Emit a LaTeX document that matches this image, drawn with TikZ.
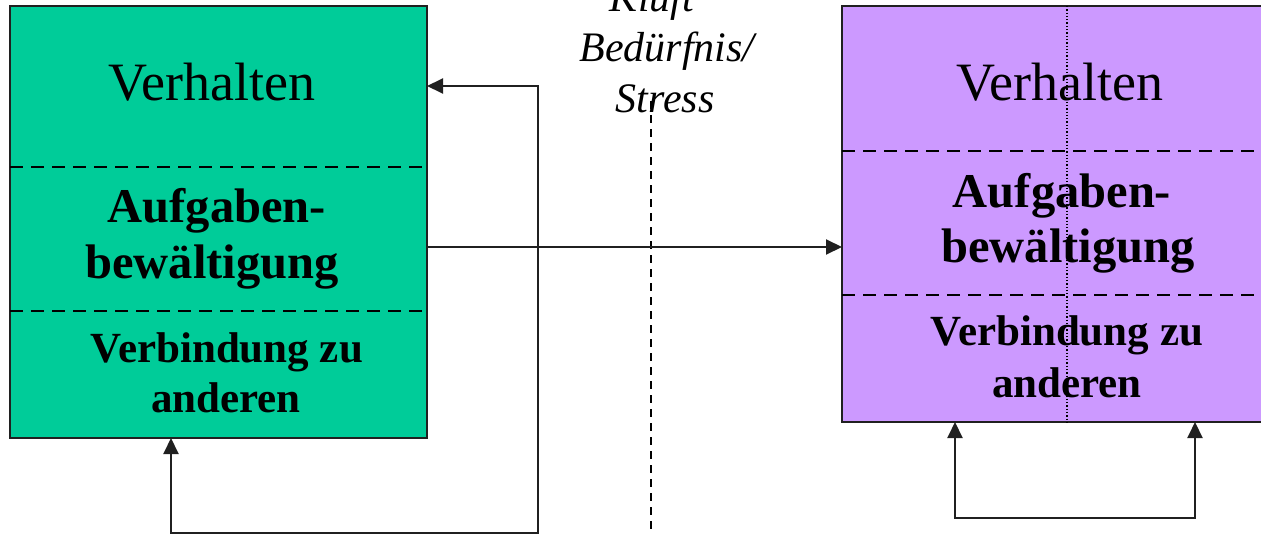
\documentclass[tikz,border=0pt]{standalone}
\usepackage{fontspec}
\setmainfont{Liberation Serif}
\usetikzlibrary{arrows.meta}
\definecolor{boxgreen}{HTML}{00CC99}
\definecolor{boxviolet}{HTML}{CC99FF}
\definecolor{edge}{HTML}{202020}
\tikzset{
  panel/.style={draw=edge, line width=2pt, inner sep=0pt, outer sep=0pt},
  divider/.style={line width=2pt, dash pattern=on 13pt off 8pt},
  bigtext/.style={anchor=base, inner sep=0pt, font=\fontsize{54}{60}\selectfont},
  boldtext/.style={anchor=base, inner sep=0pt, font=\fontsize{48.5}{56}\selectfont\bfseries},
  smalltext/.style={anchor=base, inner sep=0pt, font=\fontsize{43}{50}\selectfont\bfseries},
  gaptext/.style={anchor=base, inner sep=0pt, font=\fontsize{42}{50}\selectfont\itshape},
  tip/.tip={Triangle[length=16pt,width=15pt]},
  link/.style={draw=edge, line width=2pt, -tip},
  twoway/.style={draw=edge, line width=2pt, tip-tip},
}
\begin{document}
\begin{tikzpicture}[x=1pt,y=-1pt]
\useasboundingbox (0,0) rectangle (1261,535);
\clip (0,0) rectangle (1261,535);

% left panel
\node[panel, fill=boxgreen, minimum width=417pt, minimum height=432pt, anchor=north west] (L) at (10,6) {};
\draw[divider] (L.west |- 0,167) -- (L.east |- 0,167);
\draw[divider] (L.west |- 0,311) -- (L.east |- 0,311);
\node[bigtext] (L1) at (212,100) {Verhalten};
\node[boldtext] (L2a) at (217,222) {Aufgaben-};
\node[boldtext] (L2b) at (212,278) {bewältigung};
\node[smalltext] (L3a) at (227,362) {Verbindung zu};
\node[smalltext] (L3b) at (226,412) {anderen};

% right panel
\node[panel, fill=boxviolet, minimum width=436pt, minimum height=416pt, anchor=north west] (R) at (842,6) {};
\draw[divider] (R.west |- 0,151) -- (R.east |- 0,151);
\draw[divider] (R.west |- 0,295) -- (R.east |- 0,295);
\draw[line width=1.3pt, dotted] (1067,6) -- (1067,422);
\node[bigtext] (R1) at (1060,100) {Verhalten};
\node[boldtext] (R2a) at (1062,207) {Aufgaben-};
\node[boldtext] (R2b) at (1068,262) {bewältigung};
\node[smalltext] (R3a) at (1067,345) {Verbindung zu};
\node[smalltext] (R3b) at (1067,397) {anderen};

% gap in between
\node[gaptext] (K) at (652,12) {Kluft};
\node[gaptext] (B) at (667,62) {Bedürfnis/};
\node[gaptext] (S) at (665,112) {Stress};
\coordinate (gtop) at (651,101);
\coordinate (gbot) at (651,535);
\draw[line width=1.5pt, dash pattern=on 8pt off 6pt] (gtop) -- (gbot);

% connectors
\coordinate (lin) at (L.east |- 0,86);
\coordinate (lbot) at (171,438);
\draw[twoway] (lin) -- (538,86) -- (538,533) -- (171,533) -- (lbot);
\draw[link] (L.east |- 0,247) -- (R.west |- 0,247);
\coordinate (ra) at (955,422);
\coordinate (rb) at (1195,422);
\draw[twoway] (ra) -- (955,518) -- (1195,518) -- (rb);
\end{tikzpicture}
\end{document}
